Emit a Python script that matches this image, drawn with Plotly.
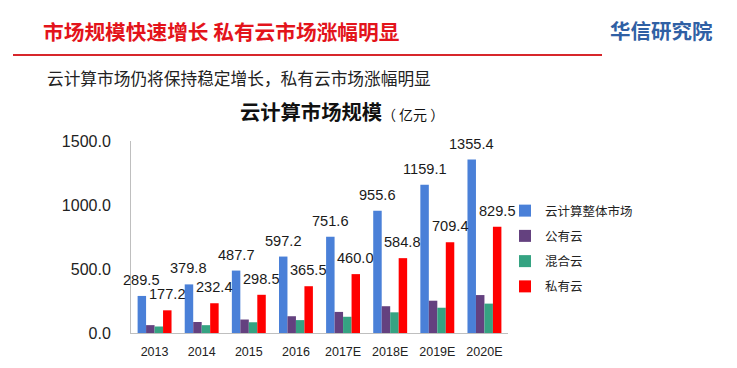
import plotly.graph_objects as go

years = ["2013", "2014", "2015", "2016", "2017E", "2018E", "2019E", "2020E"]
total = [289.5, 379.8, 487.7, 597.2, 751.6, 955.6, 1159.1, 1355.4]
public = [61.5, 86.2, 105.3, 131.0, 164.8, 209.2, 252.3, 296.4]
hybrid = [50.8, 61.2, 83.9, 100.7, 126.8, 161.6, 197.4, 229.5]
private = [177.2, 232.4, 298.5, 365.5, 460.0, 584.8, 709.4, 829.5]

series_names = ["云计算整体市场", "公有云", "混合云", "私有云"]
series_values = [total, public, hybrid, private]
colors = ["#4a80d8", "#64417f", "#35a382", "#ff0000"]

OFF = 8  # default page body margin
W, H = 737 - OFF, 368 - OFF
# plot area in page pixels
PL, PR, PT, PB = 131, 508, 141, 333
L, R, T, B = PL - OFF, PR - OFF, PT - OFF, PB - OFF
BARGAP = 0.28

def px(x):  # page pixel -> paper
    return (x - PL) / (PR - PL)

def py(y):
    return (PB - y) / (PB - PT)

fig = go.Figure()
for i, (name, vals, c) in enumerate(zip(series_names, series_values, colors)):
    fig.add_trace(go.Bar(x=years, y=vals, name=name, marker=dict(color=c, line=dict(width=0)),
                         legendgroup=f"g{i}"))

step = (R - L) / len(years)
bw = step * (1 - BARGAP) / 4
annos = []
for vals, shift in [(total, -1.5 * bw), (private, 1.5 * bw)]:
    for idx, v in enumerate(vals):
        annos.append(dict(x=idx, y=v, xref="x", yref="y", text=f"{v:.1f}", showarrow=False,
                          xshift=shift, yshift=16, yanchor="middle",
                          font=dict(family="Liberation Sans, Arial", size=14.6, color="#1a1a1a")))

cjk = "Noto Sans CJK SC"
annos += [
    dict(x=px(41), y=py(31), xref="paper", yref="paper", xanchor="left", yanchor="middle",
         text="<b>市场规模快速增长 私有云市场涨幅明显</b>", showarrow=False,
         font=dict(family=cjk, size=20.7, color="#e3141b")),
    dict(x=px(608), y=py(30), xref="paper", yref="paper", xanchor="left", yanchor="middle",
         text="<b>华信研究院</b>", showarrow=False,
         font=dict(family=cjk, size=20.5, color="#2f60a4")),
    dict(x=px(45), y=py(78), xref="paper", yref="paper", xanchor="left", yanchor="middle",
         text="云计算市场仍将保持稳定增长，私有云市场涨幅明显", showarrow=False,
         font=dict(family=cjk, size=16.7, color="#222222")),
    dict(x=px(238), y=py(111), xref="paper", yref="paper", xanchor="left", yanchor="middle",
         text="<b>云计算市场规模</b><span style='font-size:14px'>（&nbsp;亿元&nbsp;）</span>", showarrow=False,
         font=dict(family=cjk, size=20.3, color="#111111")),
]

fig.update_layout(
    width=W, height=H,
    margin=dict(l=L, r=W - R, t=T, b=H - B, pad=0, autoexpand=False),
    paper_bgcolor="white", plot_bgcolor="white",
    barmode="group", bargap=BARGAP, bargroupgap=0,
    showlegend=True,
    legend=dict(x=px(505), y=py(196), xanchor="left", yanchor="top",
                traceorder="grouped", tracegroupgap=6,
                font=dict(family=cjk, size=12.5, color="#222222"),
                itemwidth=30, bgcolor="rgba(0,0,0,0)"),
    annotations=annos,
    shapes=[dict(type="line", xref="paper", yref="paper", x0=px(13), x1=px(602), y0=py(55), y1=py(55),
                 line=dict(color="#d7262b", width=2))],
    xaxis=dict(type="category", categoryorder="array", categoryarray=years,
               range=[-0.5, len(years) - 0.5], automargin=False,
               showline=True, linecolor="#bfbfbf", linewidth=1, ticks="", showgrid=False,
               tickfont=dict(family="Liberation Sans, Arial", size=12.5, color="#222222"),
               ticklabelstandoff=7),
    yaxis=dict(range=[0, 1500], tickvals=[0, 500, 1000, 1500], tickformat=".1f", automargin=False,
               showline=True, linecolor="#bfbfbf", linewidth=1, ticks="", showgrid=False,
               zeroline=False,
               tickfont=dict(family="Liberation Sans, Arial", size=16, color="#222222"),
               ticklabelstandoff=16),
)

fig.write_html("out.html")
